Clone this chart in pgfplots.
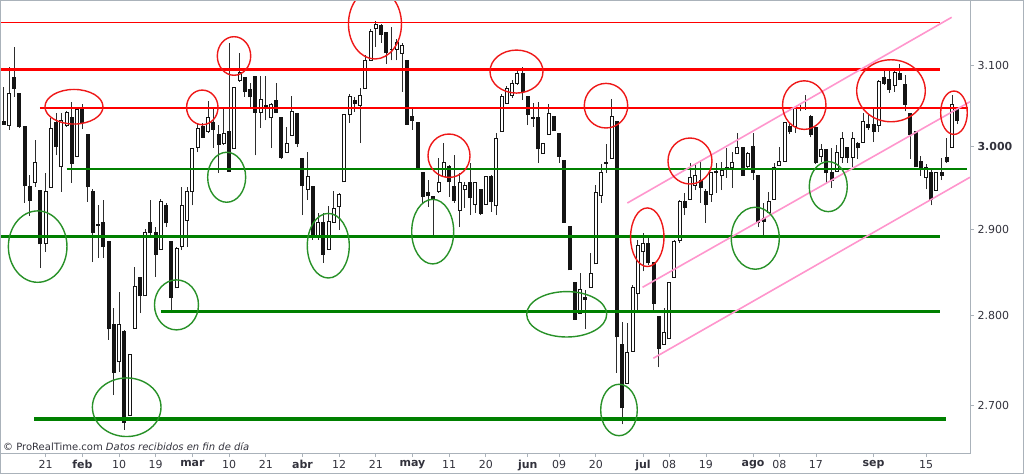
\documentclass[border=0pt]{standalone}
\usepackage{fontspec}
\setmainfont{DejaVu Sans}
\usepackage{pgfplots}
\usepackage{pgfplotstable}
\pgfplotsset{compat=1.18}
\definecolor{redline}{RGB}{255,0,0}
\definecolor{greenline}{RGB}{0,128,0}
\definecolor{redcirc}{RGB}{238,24,24}
\definecolor{greencirc}{RGB}{40,145,40}
\definecolor{pinkline}{RGB}{255,150,205}
\definecolor{wickc}{RGB}{45,45,45}
\definecolor{bodyc}{RGB}{20,20,20}
\definecolor{axisgray}{RGB}{170,178,186}
\definecolor{labelc}{RGB}{50,50,60}

\pgfdeclareplotmark{ell}{%
  \pgfpathellipse{\pgfpointorigin}{\pgfpoint{\rx pt}{0pt}}{\pgfpoint{0pt}{\ry pt}}%
  \pgfusepathqstroke}

% down (black) candles: index open high low close
\pgfplotstableread{
i o h l c
1 3030 3073 3027 3027
3 3085 3124 3061 3072
4 3065 3065 3023 3024
5 3024 3024 2932 2952
6 2951 2965 2916 2935
8 2947 2947 2855 2883
11 3029 3041 2989 3000
14 3036 3055 2956 2979
16 3046 3052 3021 3029
17 3015 3015 2933 2951
18 2945 2948 2862 2896
19 2906 2929 2867 2905
20 2908 2935 2867 2880
21 2886 2886 2773 2785
22 2790 2809 2711 2736
24 2782 2784 2673 2681
27 2844 2844 2803 2823
29 2909 2935 2894 2896
30 2896 2903 2845 2871
32 2929 2932 2903 2908
33 2886 2886 2803 2821
39 3024 3029 3010 3011
41 3029 3046 2998 3021
42 3014 3026 2968 3002
44 3018 3129 2970 2970
47 3085 3086 3061 3067
48 3070 3078 3047 3061
49 3086 3087 2989 3042
51 3050 3087 3032 3049
53 3056 3078 3042 3042
54 3036 3036 2985 2986
57 3040 3040 2999 3004
58 2985 2985 2917 2952
60 2951 2951 2888 2891
62 2909 2920 2861 2871
68 3056 3061 3042 3053
73 3151 3153 3129 3140
74 3142 3142 3102 3117
75 3121 3149 3107 3120
78 3106 3106 3027 3027
79 3037 3048 3020 3032
80 3029 3029 2972 2972
81 2968 2968 2932 2939
82 2944 2959 2927 2940
83 2939 2939 2893 2936
86 2976 2977 2939 2957
87 2951 2989 2932 2935
90 2956 2980 2917 2938
92 2948 2948 2917 2919
94 2963 2965 2921 2933
100 3090 3098 3057 3067
101 3061 3061 3026 3039
102 3035 3053 3024 3034
103 3036 3055 2980 2997
106 3037 3037 3019 3019
107 3016 3016 2980 2988
108 2983 2983 2909 2909
109 2904 2904 2853 2853
110 2838 2838 2796 2796
112 2821 2829 2785 2819
116 2980 3003 2968 2979
118 3031 3031 2736 2776
119 2768 2793 2679 2697
124 2884 2891 2859 2861
125 2861 2861 2807 2814
126 2799 2799 2742 2763
131 2933 2944 2917 2926
134 2958 2981 2932 2950
135 2946 2948 2908 2930
137 2970 2980 2944 2968
139 2974 2998 2962 2972
142 2999 2999 2965 2965
144 3000 3016 2959 2968
145 2964 2964 2903 2909
146 2913 2932 2893 2910
151 3024 3030 3015 3018
153 3048 3051 3043 3046
154 3047 3063 3045 3046
155 3037 3039 3011 3015
156 3023 3023 2979 2980
158 2996 2996 2956 2968
159 2968 2998 2950 2959
162 2999 2999 2980 2986
164 3004 3005 2985 2998
166 3027 3039 3020 3023
167 3027 3048 3005 3018
169 3085 3095 3076 3077
170 3083 3095 3066 3070
172 3090 3102 3082 3083
173 3076 3088 3043 3052
174 3041 3041 2985 3014
175 3018 3018 2975 2975
176 2982 2988 2964 2972
178 2968 2974 2929 2936
180 2968 2986 2959 2965
181 2987 3010 2980 2981
183 3045 3047 3027 3032
}\down

% up (white) candles
\pgfplotstableread{
i o h l c
2 3026 3098 3020 3065
7 2956 3008 2951 2980
9 2884 2968 2874 2945
10 2950 3035 2950 3022
12 2975 3041 2945 3032
13 3025 3043 3024 3042
15 2988 3048 2987 3045
23 2748 2827 2737 2790
25 2689 2756 2689 2756
26 2786 2856 2786 2834
28 2823 2901 2823 2897
31 2877 2936 2877 2934
34 2832 2879 2832 2878
35 2880 2951 2876 2928
36 2911 2951 2880 2945
37 2945 2997 2929 2997
38 2999 3029 2993 3022
40 3018 3056 3016 3036
43 3003 3046 3002 3016
45 2997 3073 2997 3073
46 3082 3116 3080 3092
50 3042 3087 3023 3058
52 3035 3053 2998 3052
55 2993 3024 2992 3004
56 3013 3062 3013 3043
59 2948 2993 2935 2963
61 2891 2920 2888 2909
63 2877 2928 2877 2910
64 2909 2946 2909 2925
65 2927 2944 2900 2942
66 2957 3039 2957 3039
67 3039 3065 3029 3061
69 3050 3072 3004 3063
70 3071 3114 3071 3107
71 3107 3147 3107 3143
72 3147 3157 3124 3152
76 3121 3134 3107 3129
77 3116 3129 3067 3125
84 2946 2986 2944 2956
85 2963 3004 2963 2980
88 2923 2968 2903 2956
89 2948 2957 2926 2952
91 2930 2957 2920 2956
93 2930 2963 2930 2963
95 2928 3016 2917 3010
96 3018 3065 3018 3061
97 3053 3075 3053 3071
98 3063 3082 3060 3078
99 3078 3097 3076 3090
104 2991 3003 2991 3003
105 3015 3052 3015 3040
111 2803 2849 2803 2830
113 2832 2873 2832 2849
114 2860 2953 2860 2944
115 2940 2979 2932 2968
117 2985 3058 2985 3037
120 2724 2792 2724 2758
121 2760 2835 2760 2832
122 2826 2888 2803 2881
123 2874 2896 2851 2883
127 2768 2809 2768 2781
128 2774 2838 2774 2838
129 2844 2888 2844 2886
130 2887 2935 2884 2933
132 2936 2980 2936 2962
133 2953 2977 2947 2965
136 2942 2968 2933 2968
138 2964 2981 2947 2971
140 2974 2993 2950 2980
141 2991 3016 2991 2999
143 2976 2993 2974 2991
147 2920 2945 2920 2933
148 2936 2980 2936 2974
149 2977 2999 2977 2982
150 2982 3030 2982 3029
152 3024 3050 3016 3046
157 2988 3003 2981 2996
160 2969 3002 2969 2992
161 2987 3018 2980 3009
163 2987 3018 2975 3010
165 3005 3041 3004 3030
168 3026 3082 3018 3080
171 3075 3095 3067 3091
177 2962 2979 2948 2974
179 2947 2969 2947 2968
182 2999 3063 2999 3051
}\up

% annotation ellipses: index, price, radii (pt)
\pgfplotstableread{
i p rx ry
14.40 3048.7 29.0 17.3
38.89 3047.9 15.7 17.3
44.94 3112.3 16.7 19.3
71.84 3153.1 26.5 35.0
85.97 2988.5 21.0 21.7
98.85 3092.7 26.5 21.5
115.93 3049.9 21.7 22.3
123.81 2891.0 16.7 29.3
131.96 2982.1 22.0 23.0
153.77 3050.8 21.7 24.3
170.32 3068.6 34.3 31.0
182.34 3041.3 13.3 21.7
}\redell

\pgfplotstableread{
i p rx ry
7.47 2880.0 29.3 35.7
24.46 2697.8 34.3 29.3
33.96 2812.5 22.0 25.0
43.54 2962.4 19.0 25.0
62.93 2881.1 21.0 32.3
82.86 2897.6 21.0 32.3
108.43 2801.8 40.0 22.7
118.41 2694.8 18.3 25.7
144.42 2889.8 24.0 31.0
158.35 2951.2 19.0 25.0
}\greenell

\pgfplotsset{
  wickst/.style={wickc, line width=1pt, mark=none},
  bodyblack/.style={bodyc, line width=4pt, mark=none, shorten <=-0.5pt, shorten >=-0.5pt},
  bodywhite/.style={white, line width=2pt, mark=none, shorten <=0.5pt, shorten >=0.5pt},
}

% draws the candles of one table; #2 = 1 for white (up) candles
\newcommand\candles[2]{%
  \pgfplotstablegetrowsof{#1}%
  \pgfmathtruncatemacro\nrows{\pgfplotsretval-1}%
  \pgfplotsforeachungrouped \r in {0,...,\nrows}{%
    \pgfplotstablegetelem{\r}{i}\of{#1}\let\ci\pgfplotsretval
    \pgfplotstablegetelem{\r}{o}\of{#1}\let\co\pgfplotsretval
    \pgfplotstablegetelem{\r}{h}\of{#1}\let\ch\pgfplotsretval
    \pgfplotstablegetelem{\r}{l}\of{#1}\let\cl\pgfplotsretval
    \pgfplotstablegetelem{\r}{c}\of{#1}\let\cc\pgfplotsretval
    \ifnum#2=1
      \edef\temp{%
        \noexpand\addplot[wickst] coordinates {(\ci,\cl) (\ci,\ch)};
        \noexpand\addplot[bodyblack] coordinates {(\ci,\co) (\ci,\cc)};
        \noexpand\addplot[bodywhite] coordinates {(\ci,\co) (\ci,\cc)};
      }%
    \else
      \edef\temp{%
        \noexpand\addplot[wickst] coordinates {(\ci,\cl) (\ci,\ch)};
        \noexpand\addplot[bodyblack] coordinates {(\ci,\cc) (\ci,\co)};
      }%
    \fi
    \temp
  }%
}

\begin{document}
\begin{tikzpicture}
\path[use as bounding box] (0,0) rectangle (1024pt,474pt);
\begin{axis}[
  at={(0pt,21pt)}, anchor=south west,
  scale only axis, width=970pt, height=453pt,
  xmin=0.28, xmax=185.4,
  y coord trafo/.code={\pgfmathparse{ln(#1)}},
  ymin=2648, ymax=3184,
  xtick={9,16,23,30,37,44,51,58,65,72,79,86,93,101,107,114,123,128,135,144,149,156,167,177},
  xticklabels={21,\textbf{feb},10,19,\textbf{mar},10,21,\textbf{abr},12,21,\textbf{may},11,20,\textbf{jun},09,20,\textbf{jul},08,19,\textbf{ago},08,17,\textbf{sep},15},
  ytick={2700,2800,2900,3000,3100},
  yticklabels={2.700,2.800,2.900,\textbf{3.000},3.100},
  xtick pos=bottom, ytick pos=right,
  yticklabel pos=right,
  tick align=outside,
  major tick length=4pt,
  tick style={axisgray, line width=0.8pt},
  axis line style={axisgray, line width=1pt},
  ticklabel style={font=\fontsize{11}{13}\selectfont, text=labelc},
]
\candles{\down}{0}
\candles{\up}{1}

% horizontal levels
\addplot[redline, line width=1.6pt] coordinates {(0.28,3155) (179.7,3155)};
\addplot[redline, line width=2.8pt] coordinates {(0.28,3095) (179.7,3095)};
\addplot[redline, line width=2pt] coordinates {(7.9,3047.5) (185.0,3047.5)};
\addplot[greenline, line width=1.8pt] coordinates {(13.0,2972) (184.8,2972)};
\addplot[greenline, line width=2.8pt] coordinates {(0.28,2892) (179.7,2892)};
\addplot[greenline, line width=2.5pt] coordinates {(31.0,2805) (179.7,2805)};
\addplot[greenline, line width=4.5pt] coordinates {(6.8,2685) (180.8,2685)};

% channel
\addplot[pinkline, line width=1.6pt] coordinates {(120.0,2931.6) (181.9,3161.7)};
\addplot[pinkline, line width=1.6pt] coordinates {(122.9,2832.7) (185.4,3054.9)};
\addplot[pinkline, line width=1.6pt] coordinates {(124.96,2752.1) (185.4,2962.4)};

% ellipses
\addplot[only marks, mark=ell, mark options={draw=redcirc, line width=1.4pt, solid},
  visualization depends on={\thisrow{rx}\as\rx},
  visualization depends on={\thisrow{ry}\as\ry}]
  table[x=i, y=p] {\redell};
\addplot[only marks, mark=ell, mark options={draw=greencirc, line width=1.4pt, solid},
  visualization depends on={\thisrow{rx}\as\rx},
  visualization depends on={\thisrow{ry}\as\ry}]
  table[x=i, y=p] {\greenell};

\node[anchor=base west, inner sep=0pt, font=\fontsize{10}{12}\selectfont, text=labelc, xshift=3pt, yshift=2.5pt]
  at (rel axis cs:0,0) {\textcopyright{} ProRealTime.com \textit{Datos recibidos en fin de día}};
\end{axis}
\draw[axisgray, line width=1pt] (0.5pt,0.5pt) rectangle (1023.5pt,473.5pt);
\end{tikzpicture}
\end{document}
